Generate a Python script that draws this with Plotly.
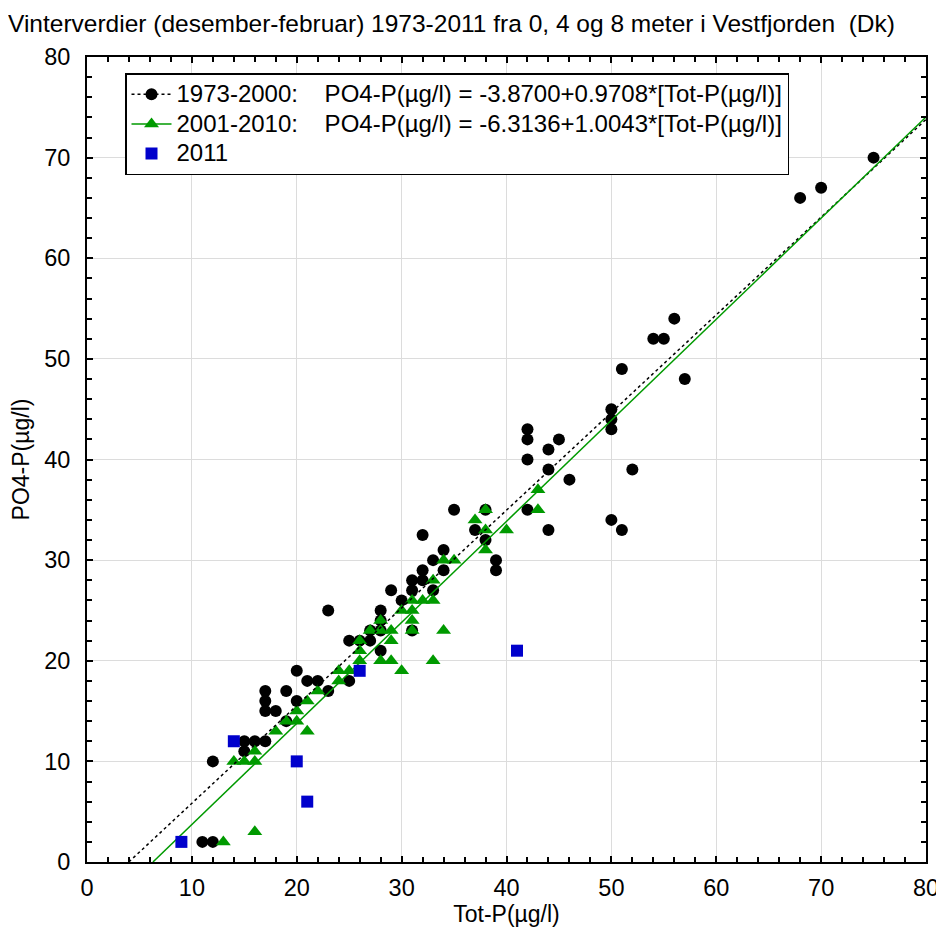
import plotly.graph_objects as go

# 1973-2000 (black circles)
tot_1973 = [11, 12, 12, 15, 15, 16, 17, 17, 18, 17, 17, 19, 19, 20, 20, 21, 22, 23, 23, 25, 25, 26, 27, 27,
            28, 28, 28, 28, 29, 30, 31, 31, 31, 32, 32, 32, 33, 33, 34, 34, 35, 37, 38, 38, 39, 39,
            42, 42, 42, 42, 44, 44, 44, 45, 46, 50, 50, 50, 50, 51, 51, 52, 54, 55, 56, 57, 68, 70, 75]
po4_1973 = [2, 2, 10, 11, 12, 12, 12, 15, 15, 16, 17, 14, 17, 16, 19, 18, 18, 17, 25, 18, 22, 22, 22, 23,
            21, 23, 24, 25, 27, 26, 23, 27, 28, 28, 29, 32.5, 27, 30, 29, 31, 35, 33, 32, 35, 29, 30,
            35, 40, 42, 43, 33, 39, 41, 42, 38, 34, 43, 44, 45, 33, 49, 39, 52, 52, 54, 48, 66, 67, 70]

# 2001-2010 (green triangles)
tot_2001 = [13, 16, 14, 15, 16, 16, 18, 19, 20, 21, 20, 21, 22, 24, 24, 25, 26, 26, 26, 27, 28, 28, 28,
            29, 29, 29, 30, 30, 31, 31, 31, 31, 32, 33, 33, 33, 34, 34, 35, 37, 38, 38, 38, 40, 43, 43]
po4_2001 = [2, 3, 10, 10, 10, 11, 13, 14, 14, 13, 15, 16, 17, 18, 19, 19, 20, 21, 22, 23, 23, 24, 20,
            20, 22, 23, 19, 25, 23, 24, 25, 26, 26, 26, 28, 20, 23, 30, 30, 34, 35, 33, 31, 33, 37, 35]

# 2011 (blue squares)
tot_2011 = [9, 14, 20, 21, 26, 41]
po4_2011 = [2, 12, 10, 6, 19, 21]

# Regression coefficients (intercept, slope)
fit_1973 = (-3.8700, 0.9708)
fit_2001 = (-6.3136, 1.0043)

x_max = 80

def fit_line(coef):
    a, b = coef
    x0 = -a / b
    return [x0, x_max], [a + b * x0, a + b * x_max]

lx1, ly1 = fit_line(fit_1973)
lx2, ly2 = fit_line(fit_2001)

BLACK = "#000000"
GREEN = "#009a00"
BLUE = "#0000cc"
FONT = "Liberation Sans, Arial, sans-serif"

fig = go.Figure()
fig.add_trace(go.Scatter(x=tot_1973, y=po4_1973, mode="markers", showlegend=False,
                         marker=dict(symbol="circle", size=12, color=BLACK)))
fig.add_trace(go.Scatter(x=tot_2001, y=po4_2001, mode="markers", showlegend=False,
                         marker=dict(symbol="triangle-up", size=13, color=GREEN)))
fig.add_trace(go.Scatter(x=lx1, y=ly1, mode="lines", showlegend=False,
                         line=dict(color=BLACK, width=1.5, dash="dot")))
fig.add_trace(go.Scatter(x=lx2, y=ly2, mode="lines", showlegend=False,
                         line=dict(color=GREEN, width=1.5)))
fig.add_trace(go.Scatter(x=tot_2011, y=po4_2011, mode="markers", showlegend=False,
                         marker=dict(symbol="square", size=12, color=BLUE)))

sp = "&nbsp;" * 4


def big(t):
    return '<span style="font-size:24px">' + t + "</span>"


fig.add_trace(go.Scatter(x=[None], y=[None], mode="lines+markers",
                         name=big("1973-2000:" + sp + "PO4-P(µg/l) = -3.8700+0.9708*[Tot-P(µg/l)]"),
                         marker=dict(symbol="circle", size=12, color=BLACK),
                         line=dict(color=BLACK, width=1.5, dash="dot")))
fig.add_trace(go.Scatter(x=[None], y=[None], mode="lines+markers",
                         name=big("2001-2010:" + sp + "PO4-P(µg/l) = -6.3136+1.0043*[Tot-P(µg/l)]"),
                         marker=dict(symbol="triangle-up", size=13, color=GREEN),
                         line=dict(color=GREEN, width=1.5)))
fig.add_trace(go.Scatter(x=[None], y=[None], mode="markers", name=big("2011"),
                         marker=dict(symbol="square", size=12, color=BLUE)))

axis_common = dict(
    range=[0, 80], dtick=10, tick0=0, showgrid=True, gridcolor="#dcdcdc", gridwidth=1,
    showline=True, linecolor="black", linewidth=2, mirror="allticks",
    ticks="inside", ticklen=6, tickcolor="black", tickwidth=1.5,
    minor=dict(dtick=2, ticks="inside", ticklen=5, tickcolor="black", tickwidth=1.5, showgrid=False),
    zeroline=False, automargin=False, tickfont=dict(size=23.5, color="black", family=FONT),
)

fig.update_layout(
    width=944, height=942,
    margin=dict(l=79, r=26, t=49, b=88),
    paper_bgcolor="white", plot_bgcolor="white",
    font=dict(family=FONT, color="black"),
    title=dict(text="Vinterverdier (desember-februar) 1973-2011 fra 0, 4 og 8 meter i Vestfjorden  (Dk)",
               font=dict(size=24.5, family=FONT, color="black"),
               x=0.0, xanchor="left", xref="container", y=1 - 15 / 942, yanchor="middle", yref="container",
               pad=dict(l=0, r=0, t=0, b=0)),
    xaxis=dict(axis_common, ticklabelstandoff=4,
               title=dict(text="Tot-P(µg/l)", font=dict(size=23, family=FONT), standoff=6)),
    yaxis=dict(axis_common, ticklabelstandoff=10,
               title=dict(text="PO4-P(µg/l)", font=dict(size=23, family=FONT), standoff=12)),
    legend=dict(x=0.0453, y=0.98, xanchor="left", yanchor="top", itemwidth=40,
                bgcolor="white", bordercolor="black", borderwidth=1.5,
                font=dict(size=20.4, family=FONT, color="black"), tracegroupgap=0),
)

fig.write_html("out.html")
